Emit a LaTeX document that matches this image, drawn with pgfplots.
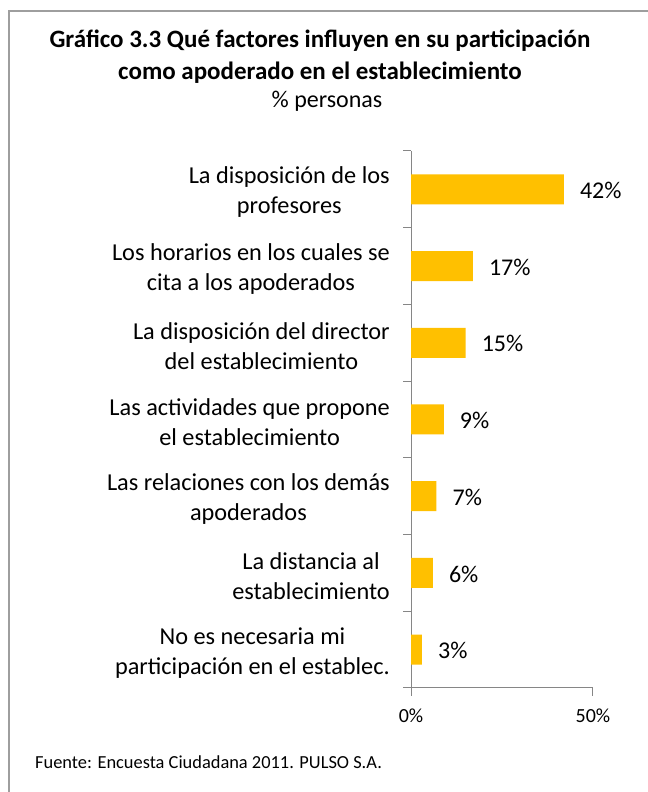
\documentclass[border=0pt]{standalone}
\usepackage{pgfplots}
\pgfplotsset{compat=1.18}
\usepackage{fontspec}
\setmainfont{Carlito}
\definecolor{barorange}{HTML}{FFC000}
\definecolor{axgray}{HTML}{868686}
\begin{document}
\begin{tikzpicture}
\useasboundingbox (0,0) rectangle (648bp,792bp);
\fill[white] (0,0) rectangle (648bp,792bp);
\draw[axgray!80, line width=1.2bp] (9bp,0) -- (9bp,781bp) -- (648bp,781bp);
\node[anchor=mid, font=\fontsize{25bp}{30bp}\selectfont\bfseries] at (320bp,747bp) {Gráfico 3.3 Qué factores influyen en su participación};
\node[anchor=mid, font=\fontsize{25bp}{30bp}\selectfont\bfseries] at (320bp,715bp) {como apoderado en el establecimiento};
\node[anchor=mid, font=\fontsize{24bp}{29bp}\selectfont] at (327bp,687bp) {\% personas};
\node[anchor=base west, inner sep=0pt, font=\fontsize{18.4bp}{22bp}\selectfont] at (35bp,24bp) {Fuente: Encuesta Ciudadana 2011. PULSO S.A.};
\begin{axis}[
  at={(411bp,104bp)}, anchor=origin,
  scale only axis,
  width=182bp, height=537bp,
  xmin=0, xmax=50, ymin=0.5, ymax=7.5,
  axis lines*=left,
  axis line style={draw=axgray, line width=1bp},
  xbar, bar width=30bp,
  xtick={0,50},
  xticklabel={\pgfmathprintnumber{\tick}\%},
  tick align=outside,
  major tick length=8bp,
  tick style={draw=axgray, line width=1bp},
  ytick={0.5,1.5,...,7.5},
  yticklabels={},
  extra y ticks={1,2,3,4,5,6,7},
  extra y tick labels={
    {No es necesaria mi\\participación en el establec.},
    {La distancia al\\establecimiento},
    {Las relaciones con los demás\\apoderados},
    {Las actividades que propone\\el establecimiento},
    {La disposición del director\\del establecimiento},
    {Los horarios en los cuales se\\cita a los apoderados},
    {La disposición de los\\profesores}},
  extra y tick style={major tick length=0pt,
    yticklabel style={align=center, inner sep=0pt, xshift=-21bp, yshift=-3bp,
      font=\fontsize{24.3bp}{30bp}\selectfont}},
  xticklabel style={font=\fontsize{20bp}{24bp}\selectfont, yshift=-9bp},
  /pgf/number format/assume math mode=true,
  point meta=x,
  nodes near coords={\pgfmathprintnumber{\pgfplotspointmeta}\%},
  nodes near coords style={anchor=west, inner sep=0pt, xshift=16bp, yshift=-1bp,
    font=\fontsize{24bp}{28bp}\selectfont, black},
  clip=false,
]
\addplot[fill=barorange, draw=none] coordinates {
  (3,1) (6,2) (7,3) (9,4) (15,5) (17,6) (42,7)
};
\end{axis}
\end{tikzpicture}
\end{document}
